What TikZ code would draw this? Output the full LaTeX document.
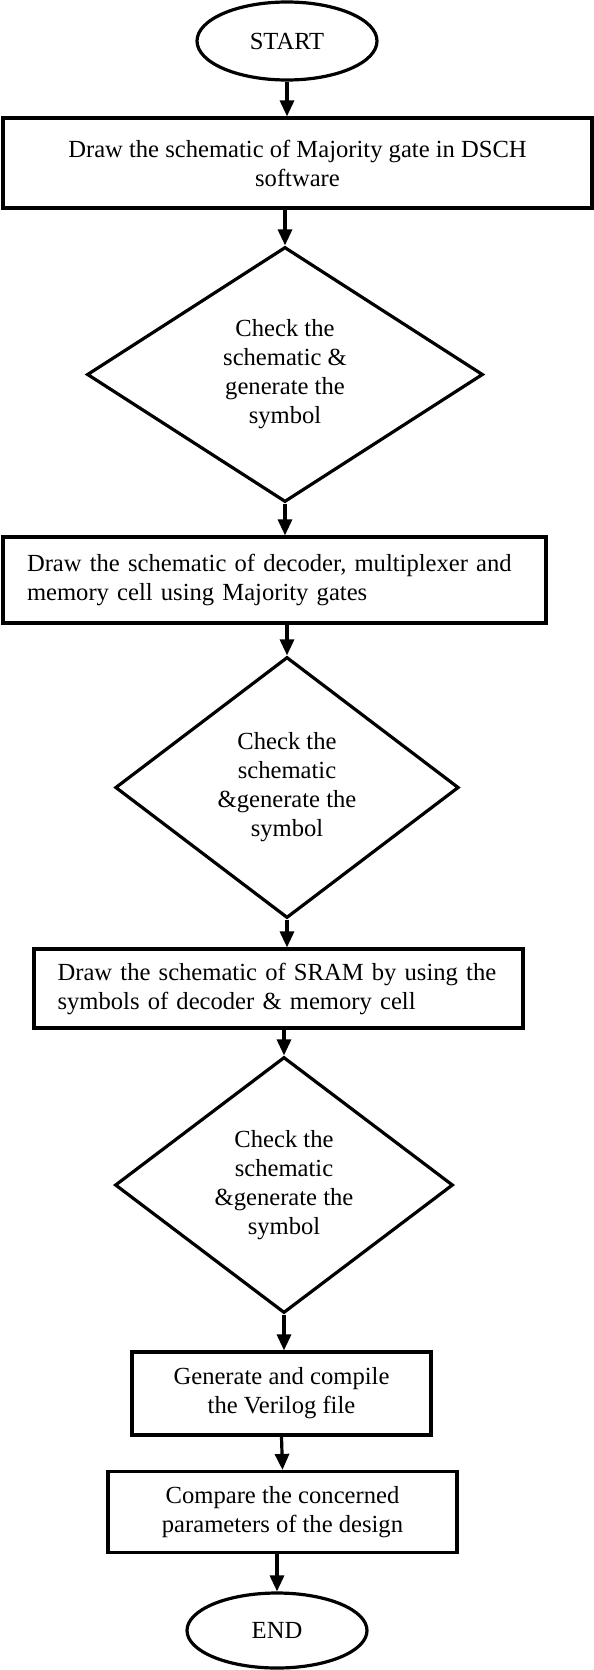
\documentclass[tikz,border=0pt]{standalone}
\usepackage{fontspec}
\setmainfont{Liberation Serif}
\usetikzlibrary{shapes.geometric,arrows.meta}

\tikzset{
  flowline/.style={line width=1.6pt},
  terminal/.style={flowline, draw, ellipse, inner sep=0pt},
  procbox/.style={flowline, draw, rectangle, inner sep=0pt, align=center},
  leftbox/.style={flowline, draw, rectangle, inner ysep=0pt, align=left},
  decision/.style={flowline, draw, diamond, inner sep=0pt, align=center},
  arr/.style={flowline, -{Triangle[length=8pt,width=7pt]}},
}

\begin{document}
\begin{tikzpicture}[x=0.5pt,y=-0.5pt,
  every node/.style={font=\fontsize{12.3}{14.5}\selectfont}]
\useasboundingbox (0,0) rectangle (594,1670);

% terminals, process boxes and decisions, top to bottom
\node[terminal, minimum width=90pt, minimum height=39pt] (start) at (287,41) {START};

\node[procbox, minimum width=294.5pt, minimum height=45pt] (box1) at (297.5,163)
  {Draw the schematic of Majority gate in DSCH\\software};

\node[decision, minimum width=198pt, minimum height=127.5pt] (dia1) at (285,374.5)
  {Check the\\schematic \&\\generate the\\symbol};

\node[leftbox, inner xsep=12pt, text width=247.5pt, minimum width=271.5pt, minimum height=43pt] (box2) at (274.5,580)
  {Draw the schematic of decoder, multiplexer and\\memory cell using Majority gates};

\node[decision, minimum width=171.75pt, minimum height=130.5pt] (dia2) at (287,787.5)
  {Check the\\schematic\\\&generate the\\symbol};

\node[leftbox, inner xsep=11.8pt, text width=220.9pt, minimum width=244.5pt, minimum height=39.5pt] (box3) at (278.5,988.5)
  {Draw the schematic of SRAM by using the\\symbols of decoder \& memory cell};

\node[decision, minimum width=169pt, minimum height=128pt] (dia3) at (284,1185)
  {Check the\\schematic\\\&generate the\\symbol};

\node[procbox, minimum width=149.5pt, minimum height=41.5pt] (box4) at (281.5,1393.5)
  {Generate and compile\\the Verilog file};

\node[procbox, minimum width=174.5pt, minimum height=40.5pt] (box5) at (282.5,1512)
  {Compare the concerned\\parameters of the design};

\node[terminal, minimum width=90pt, minimum height=37.5pt] (end) at (277,1630.5) {END};

% connectors
\draw[arr] (start.south) -- (start.south |- box1.north);
\draw[arr] (dia1.north |- box1.south) -- (dia1.north);
\draw[arr] (dia1.south) -- (dia1.south |- box2.north);
\draw[arr] (dia2.north |- box2.south) -- (dia2.north);
\draw[arr] (dia2.south) -- (dia2.south |- box3.north);
\draw[arr] (dia3.north |- box3.south) -- (dia3.north);
\draw[arr] (dia3.south) -- (dia3.south |- box4.north);
\draw[arr] (box4.south) -- (box5.north);
\draw[arr] (end.north |- box5.south) -- (end.north);
\end{tikzpicture}
\end{document}
